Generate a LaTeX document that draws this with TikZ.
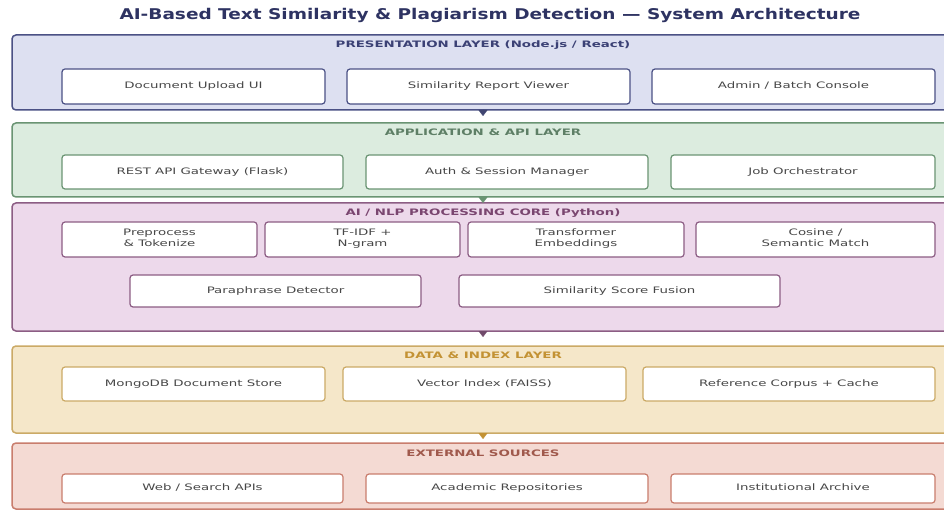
\documentclass[tikz,border=0pt]{standalone}
\usepackage{fontspec}
\setmainfont{DejaVu Sans}[FakeStretch=1.5]
\newfontfamily\titlefont{DejaVu Sans}[FakeStretch=1.25]
\usetikzlibrary{arrows.meta}
\tikzset{>=latex}
\usepackage{xcolor}
\definecolor{titlecol}{HTML}{2E3362}
\definecolor{boxtext}{HTML}{474747}
\definecolor{presfill}{HTML}{DDE0F1}
\definecolor{presdraw}{HTML}{4B5185}
\definecolor{preslab}{HTML}{3B4175}
\definecolor{appfill}{HTML}{DCECDF}
\definecolor{appdraw}{HTML}{6A9473}
\definecolor{applab}{HTML}{5E7F66}
\definecolor{aifill}{HTML}{EDD9EB}
\definecolor{aidraw}{HTML}{8C5D84}
\definecolor{ailab}{HTML}{7A4670}
\definecolor{datafill}{HTML}{F5E7C9}
\definecolor{datadraw}{HTML}{CBAA66}
\definecolor{datalab}{HTML}{C39234}
\definecolor{extfill}{HTML}{F4DAD3}
\definecolor{extdraw}{HTML}{C97D6D}
\definecolor{extlab}{HTML}{A0594C}
\colorlet{presarrow}{presdraw!85!black}
\colorlet{apparrow}{appdraw}
\colorlet{aiarrow}{aidraw!80!black}
\colorlet{dataarrow}{datalab}
\tikzset{
  layer/.style 2 args={draw=#2,fill=#1,line width=1.5pt,rounded corners=4pt,
                       inner sep=0pt,outer sep=0pt,anchor=north west},
  box/.style={draw=#1,fill=white,line width=1.2pt,rounded corners=3pt,
              inner sep=0pt,outer sep=0pt,text=boxtext,align=center,
              font=\fontsize{8.9}{11}\selectfont,execute at begin node=\strut},
  layerlabel/.style={text=#1,font=\fontsize{8.9}{11}\selectfont\bfseries},
  flow/.style={-{Triangle[length=6pt,width=9pt]},draw=#1,fill=#1,line width=0.4pt}
}

\begin{document}
\begin{tikzpicture}[x=1pt,y=-1pt]
  \def\W{942}
  \path[use as bounding box,clip] (0,0) rectangle (944,510);
  \fill[white] (0,0) rectangle (944,510);

  % TITLE
  \node[text=titlecol,font=\titlefont\fontsize{14.8}{17}\selectfont\bfseries]
    (title) at (490,15) {AI-Based Text Similarity \& Plagiarism Detection — System Architecture};

  % LAYERS
  \node[layer={presfill}{presdraw},minimum width=\W,minimum height=75] (pres) at (12,35) {};
  \node[layer={appfill}{appdraw},minimum width=\W,minimum height=74] (app) at (12,123) {};
  \node[layer={aifill}{aidraw},minimum width=\W,minimum height=128] (ai) at (12,203) {};
  \node[layer={datafill}{datadraw},minimum width=\W,minimum height=87] (data) at (12,346) {};
  \node[layer={extfill}{extdraw},minimum width=\W,minimum height=66] (ext) at (12,443) {};

  \node[layerlabel=preslab] (preslabel) at (483,45) {PRESENTATION LAYER (Node.js / React)};
  \node[layerlabel=applab] (applabel) at (483,132) {APPLICATION \& API LAYER};
  \node[layerlabel=ailab] (ailabel) at (483,213) {AI / NLP PROCESSING CORE (Python)};
  \node[layerlabel=datalab] (datalabel) at (483,355) {DATA \& INDEX LAYER};
  \node[layerlabel=extlab] (extlabel) at (483,453) {EXTERNAL SOURCES};

  % BOXES
  \foreach \nm/\xa/\xb/\txt in {upload/62/325/{Document Upload UI},
      viewer/347/630/{Similarity Report Viewer},
      console/652/935/{Admin / Batch Console}}{
    \node[box=presdraw,minimum width={\xb-\xa},minimum height=35]
      (\nm) at ({(\xa+\xb)/2},86.5) {\txt};
  }
  \foreach \nm/\xa/\xb/\txt in {gateway/62/343/{REST API Gateway (Flask)},
      auth/366/648/{Auth \& Session Manager},
      jobs/671/935/{Job Orchestrator}}{
    \node[box=appdraw,minimum width={\xb-\xa},minimum height=34]
      (\nm) at ({(\xa+\xb)/2},172) {\txt};
  }
  \foreach \nm/\xa/\xb/\txt in {prep/62/257/{Preprocess\\\& Tokenize\strut},
      tfidf/265/460/{TF-IDF +\\N-gram\strut},
      embed/468/684/{Transformer\\Embeddings\strut},
      cosine/696/935/{Cosine /\\Semantic Match\strut}}{
    \node[box=aidraw,minimum width={\xb-\xa},minimum height=35]
      (\nm) at ({(\xa+\xb)/2},239.5) {\txt};
  }
  \foreach \nm/\xa/\xb/\txt in {para/130/421/{Paraphrase Detector},
      fusion/459/780/{Similarity Score Fusion}}{
    \node[box=aidraw,minimum width={\xb-\xa},minimum height=32]
      (\nm) at ({(\xa+\xb)/2},291) {\txt};
  }
  \foreach \nm/\xa/\xb/\txt in {mongo/62/325/{MongoDB Document Store},
      faiss/343/626/{Vector Index (FAISS)},
      corpus/643/935/{Reference Corpus + Cache}}{
    \node[box=datadraw,minimum width={\xb-\xa},minimum height=34]
      (\nm) at ({(\xa+\xb)/2},384) {\txt};
  }
  \foreach \nm/\xa/\xb/\txt in {web/62/343/{Web / Search APIs},
      academic/366/648/{Academic Repositories},
      archive/671/935/{Institutional Archive}}{
    \node[box=extdraw,minimum width={\xb-\xa},minimum height=29]
      (\nm) at ({(\xa+\xb)/2},488.5) {\txt};
  }

  % ARROWS
  \draw[flow=presarrow,shorten >=7pt] (pres.south) -- (app.north);
  \draw[flow=apparrow] (app.south) -- (ai.north);
  \draw[flow=aiarrow,shorten >=9pt] (ai.south) -- (data.north);
  \draw[flow=dataarrow,shorten >=4pt] (data.south) -- (ext.north);

\end{tikzpicture}
\end{document}
